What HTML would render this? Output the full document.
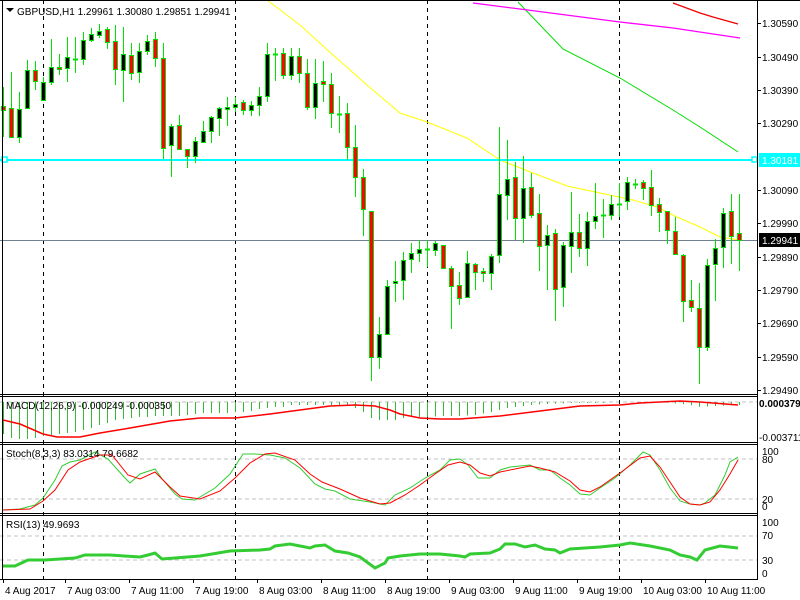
<!DOCTYPE html>
<html><head><meta charset="utf-8"><style>
body{margin:0;background:#fff;}
svg{display:block;font-family:"Liberation Sans",sans-serif;font-size:10px;}
</style></head><body>
<svg id="s" width="800" height="600" xmlns="http://www.w3.org/2000/svg">
<rect width="800" height="600" fill="#fff"/>
<g id="g"></g>
</svg>
<script>
const NS="http://www.w3.org/2000/svg";
const g=document.getElementById('g');
function el(t,a,txt){const e=document.createElementNS(NS,t);for(const k in a)e.setAttribute(k,a[k]);if(txt!==undefined)e.textContent=txt;g.appendChild(e);return e;}
function pl(pts,c,w,extra){const a={points:pts.map(p=>p.join(',')).join(' '),fill:'none',stroke:c,'stroke-width':w};Object.assign(a,extra||{});return el('polyline',a);}
function hd(y){el('line',{x1:0,x2:757,y1:y,y2:y,stroke:'#c0c0c0','stroke-dasharray':'4,3'});}
hd(402);hd(459);hd(499);hd(536);hd(560);
[43,235,427,619].forEach(x=>el('line',{x1:x+.5,x2:x+.5,y1:0,y2:580,stroke:'#000','stroke-dasharray':'4,4'}));
pl([[267,0],[300,25],[333,55],[367,85],[400,113],[427,122],[467,138],[500,160],[533,173],[567,186],[600,193],[633,200],[657,207],[677,217],[700,227],[720,237],[740,240]],'#ffff00',1);
pl([[518,2],[563,49],[620,78],[673,110],[700,127],[738,152]],'#00dd00',1);
pl([[473,3],[520,9],[620,22],[673,28],[740,38]],'#ff00ff',1.3);
pl([[673,3],[700,13],[713,17],[738,24]],'#ee0000',1.3);
el('line',{x1:0,x2:757,y1:240.5,y2:240.5,stroke:'#708090'});
el('line',{x1:0,x2:757,y1:160,y2:160,stroke:'#00ffff','stroke-width':2});
el('rect',{x:2,y:157,width:5,height:5,fill:'#fff',stroke:'#00ffff','stroke-width':1.5});
el('rect',{x:752,y:157,width:5,height:5,fill:'#fff',stroke:'#00ffff','stroke-width':1.5});
const C=[[106,110,87,137,'r'],[108,137,72,138,'r'],[109,137,92,143,'b'],[70,108,60,108,'b'],[70,81,61,90,'r'],[82,100,77,100,'b'],[67,82,39,85,'b'],[67,69,54,75,'r'],[57,68,37,82,'b'],[59,59,37,73,'d'],
[40,59,32,65,'b'],[34,40,28,42,'b'],[31,35,24,38,'b'],[29,42,27,49,'r'],[41,69,25,85,'r'],[54,70,27,102,'b'],[55,73,43,80,'r'],[51,72,43,83,'b'],[41,51,35,55,'b'],[39,58,32,67,'r'],
[58,148,43,159,'r'],[126,145,124,177,'b'],[125,149,115,149,'r'],[149,156,149,168,'r'],[141,156,137,163,'b'],[131,142,121,143,'b'],[117,131,116,143,'b'],[108,118,107,136,'b'],[107,109,97,126,'b'],[104,107,97,112,'b'],
[102,110,100,115,'r'],[105,110,101,116,'b'],[96,105,87,116,'b'],[54,96,43,102,'b'],[54,54,48,81,'d'],[53,75,48,79,'r'],[56,75,48,80,'b'],[56,73,48,83,'r'],[73,107,59,110,'r'],[83,107,59,119,'b'],
[81,84,61,102,'r'],[84,113,73,128,'r'],[114,114,96,133,'d'],[113,147,103,160,'r'],[147,177,125,197,'r'],[177,209,169,236,'r'],[211,357,211,381,'r'],[334,357,317,369,'b'],[286,334,280,334,'b'],[281,283,261,302,'b'],
[260,280,252,300,'b'],[253,259,243,273,'b'],[249,253,240,262,'b'],[249,249,240,267,'d'],[243,250,241,256,'b'],[245,268,245,269,'r'],[268,286,266,329,'r'],[285,298,272,305,'r'],[263,297,251,298,'b'],[264,272,263,290,'r'],
[271,273,268,282,'r'],[256,273,254,290,'b'],[194,255,127,263,'b'],[179,195,140,220,'b'],[177,218,162,240,'r'],[188,218,156,243,'b'],[187,215,173,218,'r'],[213,246,194,271,'r'],[235,245,225,290,'b'],[233,289,229,321,'r'],
[245,287,242,307,'b'],[232,246,192,273,'b'],[232,248,214,257,'r'],[221,248,212,266,'b'],[216,221,183,229,'b'],[215,215,199,238,'d'],[204,215,195,220,'b'],[204,204,183,217,'d'],[182,201,177,210,'b'],[184,184,179,189,'d'],
[182,188,180,200,'r'],[187,205,170,216,'r'],[204,212,198,232,'r'],[211,230,211,244,'r'],[231,254,217,254,'r'],[255,301,254,322,'r'],[300,307,280,312,'r'],[308,347,283,384,'r'],[265,347,259,351,'b'],[248,264,239,301,'b'],
[213,247,208,268,'b'],[211,236,194,264,'r'],[233,240,194,271,'r']];
C.forEach((c,i)=>{const x=3+8*i;
el('line',{x1:x+.5,x2:x+.5,y1:c[2],y2:c[3],stroke:'#00e000'});
if(c[4]==='d'){el('line',{x1:x-2,x2:x+3,y1:c[0]+.5,y2:c[0]+.5,stroke:'#00e000','stroke-width':2});}
else el('rect',{x:x-1.5,y:c[0]+.5,width:4,height:Math.max(1,c[1]-c[0]),fill:c[4]==='r'?'#ff0000':'#000',stroke:'#00e000'});
});
const hk=[[3,434],[11,438],[19,439],[27,439],[35,438],[43,436],[51,435],[59,434],[67,433],[75,432],[83,430],[91,428],[99,425],[107,423],[115,420],[123,419],[131,418],[139,417],[147,417],[155,416],[163,416],[171,416],[179,416],[187,415],[195,414],[203,413],[211,413],[219,413],[227,413],[235,412],[243,412],[251,411],[259,409],[267,408],[275,407],[283,407],[291,405],[299,405],[307,405],[315,405],[323,405],[331,405],[339,405],[347,405],[355,408],[363,412],[371,418],[379,420],[387,420],[395,420],[403,418],[411,417],[427,417],[443,416],[459,416],[475,415],[491,412],[499,410],[507,408],[515,407],[531,405],[547,404],[571,403],[600,403],[620,402],[660,402],[690,405],[700,407],[715,406],[739,405]];
function interp(k,x){for(let j=0;j<k.length-1;j++){if(x>=k[j][0]&&x<=k[j+1][0]){const t=(x-k[j][0])/(k[j+1][0]-k[j][0]);return k[j][1]+t*(k[j+1][1]-k[j][1]);}}return k[k.length-1][1];}
for(let i=0;i<93;i++){const x=3+8*i;const y=interp(hk,x);if(y>402.5)el('line',{x1:x+.5,x2:x+.5,y1:402,y2:y,stroke:'#33bb33'});}
pl([[3,420],[20,424],[43,434],[57,437],[80,437],[100,433],[130,428],[170,421],[200,418],[235,418],[270,414],[300,410],[330,406],[355,405],[375,406],[390,410],[400,414],[420,418],[440,419],[460,419],[500,416],[540,411],[580,406],[620,405],[640,403],[680,401],[700,402],[738,405]],'#ff0000',1.5);
pl([[3,510],[20,509],[35,505],[43,498],[55,480],[62,466],[70,462],[80,460],[95,452],[108,459],[125,478],[130,483],[140,474],[155,469],[163,480],[175,494],[182,499],[195,500],[200,497],[215,488],[230,474],[243,454],[255,454],[270,455],[285,458],[300,468],[315,484],[325,489],[335,491],[350,499],[370,502],[385,505],[395,495],[410,488],[425,478],[440,470],[450,460],[460,459],[468,465],[478,478],[490,478],[500,470],[510,467],[530,465],[540,470],[550,470],[560,478],[570,485],[580,494],[590,495],[600,488],[615,478],[630,465],[643,452],[650,455],[660,470],[670,488],[680,501],[690,504],[700,505],[705,503],[715,495],[725,475],[730,462],[738,457]],'#33cc33',1);
pl([[3,510],[30,509],[43,501],[55,490],[68,470],[80,462],[100,455],[112,455],[128,475],[140,479],[155,472],[170,487],[180,496],[200,499],[220,491],[235,478],[250,463],[265,454],[275,453],[295,460],[310,474],[322,482],[340,489],[360,498],[380,504],[390,503],[405,495],[420,485],[435,474],[448,465],[460,462],[470,465],[480,473],[490,476],[500,472],[515,469],[530,466],[540,468],[555,472],[570,481],[580,490],[590,492],[600,487],[620,473],[640,458],[650,456],[660,467],[670,482],[680,497],[690,504],[700,505],[710,502],[720,490],[730,474],[738,460]],'#ff0000',1);
pl([[3,566],[15,566],[28,560],[45,560],[60,559],[75,558],[85,555],[110,555],[140,557],[148,555],[155,553],[162,559],[175,558],[200,556],[230,551],[260,550],[270,549],[275,546],[290,544],[300,546],[310,548],[315,546],[325,545],[335,551],[348,553],[360,557],[375,568],[385,563],[388,558],[400,556],[420,554],[440,554],[460,556],[465,557],[470,554],[490,553],[500,549],[505,544],[515,544],[525,547],[535,545],[545,549],[555,550],[560,553],[570,549],[600,547],[620,545],[630,543],[650,546],[670,550],[680,555],[690,557],[697,560],[705,550],[720,546],[738,548]],'#33cc33',3);
[[0,394],[396,442],[444,513],[515,579]].forEach(p=>{el('line',{x1:0,x2:757,y1:p[1]+.5,y2:p[1]+.5,stroke:'#000'});if(p[0]>0)el('line',{x1:0,x2:757,y1:p[0]+.5,y2:p[0]+.5,stroke:'#000'});});
el('line',{x1:2.5,x2:2.5,y1:0,y2:580,stroke:'#000'});
el('line',{x1:757.5,x2:757.5,y1:0,y2:580,stroke:'#000'});
el('line',{x1:0,x2:800,y1:0.5,y2:0.5,stroke:'#000'});
[['1.30590',23],['1.30490',57],['1.30390',90],['1.30290',123],['1.30090',190],['1.29990',223],['1.29890',257],['1.29790',290],['1.29690',323],['1.29590',357],['1.29490',390]].forEach(l=>{el('line',{x1:757,x2:761,y1:l[1]+.5,y2:l[1]+.5,stroke:'#000'});el('text',{x:762,y:l[1]+4},l[0]);});
el('rect',{x:759,y:153,width:41,height:14,fill:'#00ffff'});el('text',{x:762,y:164,fill:'#fff'},'1.30181');
el('rect',{x:759,y:233,width:41,height:14,fill:'#000'});el('text',{x:762,y:244,fill:'#fff'},'1.29941');
el('text',{x:759,y:407,'font-weight':'bold'},'0.000379');
el('text',{x:759,y:441},'-0.003711');
[['100',455],['80',463],['20',503],['0',510],['100',526],['70',539],['30',564],['0',577]].forEach(l=>el('text',{x:762,y:l[1]},l[0]));
el('path',{d:'M6 8 L14 8 L10 12 Z',fill:'#000'});
el('text',{x:17,y:15},'GBPUSD,H1  1.29961 1.30080 1.29851 1.29941');
el('text',{x:6,y:409},'MACD(12,26,9) -0.000249 -0.000350');
el('text',{x:6,y:457},'Stoch(8,3,3) 83.0314 79.6682');
el('text',{x:6,y:528},'RSI(13) 49.9693');
[['4 Aug 2017',3],['7 Aug 03:00',65],['7 Aug 11:00',129],['7 Aug 19:00',193],['8 Aug 03:00',257],['8 Aug 11:00',321],['8 Aug 19:00',385],['9 Aug 03:00',449],['9 Aug 11:00',513],['9 Aug 19:00',577],['10 Aug 03:00',641],['10 Aug 11:00',705]].forEach(l=>{el('line',{x1:l[1]+.5,x2:l[1]+.5,y1:579,y2:583,stroke:'#000'});el('text',{x:l[1]+2,y:594},l[0]);});
</script>
</body></html>
